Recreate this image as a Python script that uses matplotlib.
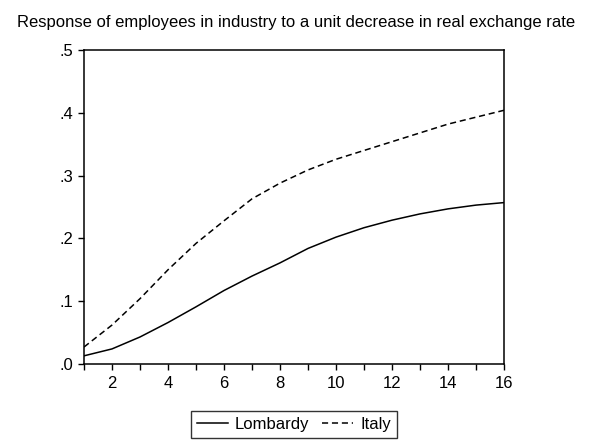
import matplotlib
matplotlib.use("Agg")
import matplotlib.pyplot as plt

plt.rcParams['font.family'] = ['Liberation Sans', 'DejaVu Sans']

periods = list(range(1, 17))
lombardy = [0.013, 0.024, 0.043, 0.066, 0.091, 0.117, 0.140, 0.161,
            0.184, 0.202, 0.217, 0.229, 0.239, 0.247, 0.253, 0.257]
italy = [0.027, 0.062, 0.104, 0.150, 0.192, 0.228, 0.263, 0.288,
         0.309, 0.326, 0.340, 0.354, 0.368, 0.382, 0.393, 0.404]
y_ticks = [0.0, 0.1, 0.2, 0.3, 0.4, 0.5]
y_labels = ['.0', '.1', '.2', '.3', '.4', '.5']

fig = plt.figure(figsize=(5.89, 4.44), dpi=100)
ax = fig.add_axes([0.1426, 0.1802, 0.7131, 0.7072])

ax.plot(periods, lombardy, color='black', lw=1.1, label='Lombardy')
ax.plot(periods, italy, color='black', lw=1.1, ls=(0, (4, 2.5)), label='Italy')

ax.set_xlim(1, 16)
ax.set_ylim(0, 0.5)
ax.set_xticks(periods)
ax.set_xticklabels([str(p) if p % 2 == 0 else '' for p in periods])
ax.set_yticks(y_ticks)
ax.set_yticklabels(y_labels)
ax.tick_params(direction='out', length=4.5, width=1, labelsize=12, pad=3)
ax.tick_params(axis='x', pad=4)
for s in ax.spines.values():
    s.set_linewidth(1.1)

fig.text(0.503, 0.95, 'Response of employees in industry to a unit decrease in real exchange rate',
         ha='center', va='center', fontsize=12)

leg = ax.legend(loc='center', bbox_to_anchor=(0.5, -0.193), ncol=2, frameon=True,
                fancybox=False, edgecolor='black', fontsize=12, handlelength=1.85,
                columnspacing=0.75, handletextpad=0.45, borderpad=0.35,
                borderaxespad=0)
leg.get_frame().set_linewidth(1.0)

fig.savefig('out.png', dpi=100)
